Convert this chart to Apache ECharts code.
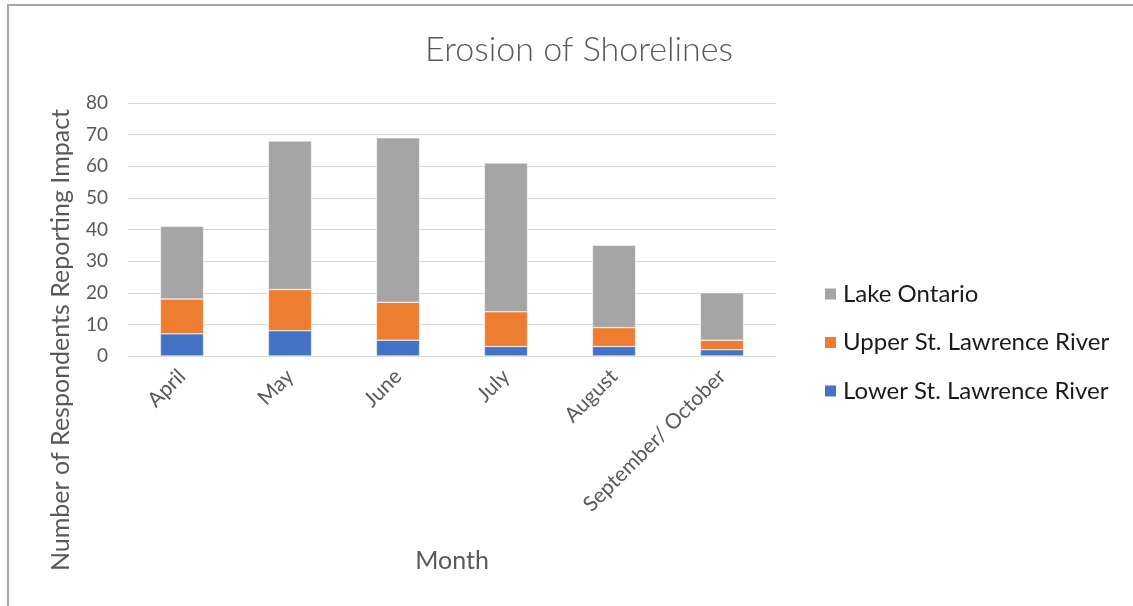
<!DOCTYPE html>
<html>
<head>
<meta charset="utf-8">
<script src="https://cdn.jsdelivr.net/npm/echarts@6/dist/echarts.min.js"></script>
<style>
  html, body { margin: 0; padding: 0; background: #fff; }
  #frame { position: absolute; left: 7px; top: 4px; width: 1140px; height: 620px;
           border-left: 2px solid #a6a6a6; border-top: 2px solid #a6a6a6; }
  #chart { position: absolute; left: 0; top: 0; width: 1133px; height: 606px; }
</style>
</head>
<body>
<div id="frame"></div>
<div id="chart"></div>
<script>
// Monthly counts of respondents reporting shoreline erosion, by region
const months = ['April', 'May', 'June', 'July', 'August', 'September/ October'];
const lowerStLawrence = [7, 8, 5, 3, 3, 2];
const upperStLawrence = [11, 13, 12, 11, 6, 3];
const lakeOntario = [23, 47, 52, 47, 26, 15];
const yTicks = [0, 10, 20, 30, 40, 50, 60, 70, 80];

const font = 'Lato, "Open Sans", sans-serif';
const chart = echarts.init(document.getElementById('chart'));

chart.setOption({
  animation: false,
  title: {
    text: 'Erosion of Shorelines',
    left: 574, top: 28, textAlign: 'center',
    textStyle: { fontFamily: font, fontSize: 34, fontWeight: 300, color: '#595959' }
  },
  grid: { left: 128, right: 357, top: 103, bottom: 250 },
  legend: {
    data: ['Lake Ontario', 'Upper St. Lawrence River', 'Lower St. Lawrence River'],
    orient: 'vertical', left: 818, top: 277, itemGap: 24.5,
    itemWidth: 13, itemHeight: 13, icon: 'rect',
    textStyle: { fontFamily: font, fontSize: 24, lineHeight: 24, color: '#1a1a1a',
                 padding: [0, 0, 0, 1] }
  },
  xAxis: {
    type: 'category', data: months,
    axisLine: { lineStyle: { color: '#d9d9d9', width: 1 } },
    axisTick: { show: false },
    axisLabel: { rotate: 45, fontFamily: font, fontSize: 21, color: '#595959', margin: 17 }
  },
  yAxis: {
    type: 'value', min: yTicks[0], max: yTicks[yTicks.length - 1], interval: 10,
    axisLine: { show: false }, axisTick: { show: false },
    axisLabel: { fontFamily: font, fontSize: 19, color: '#595959', margin: 20 },
    splitLine: { lineStyle: { color: '#d9d9d9', width: 1 } }
  },
  graphic: [
    {
      type: 'text', x: 61, y: 340, rotation: Math.PI / 2,
      style: { text: 'Number of Respondents Reporting Impact', fontFamily: font, fontSize: 25,
               fill: '#595959', textAlign: 'center', textVerticalAlign: 'middle' }
    },
    {
      type: 'text', x: 452, y: 561,
      style: { text: 'Month', fontFamily: font, fontSize: 25,
               fill: '#595959', textAlign: 'center', textVerticalAlign: 'middle' }
    }
  ],
  series: [
    { name: 'Lower St. Lawrence River', type: 'bar', stack: 'all', data: lowerStLawrence,
      barWidth: '40%', itemStyle: { color: '#4472c4', borderColor: '#fff', borderWidth: 0.5 } },
    { name: 'Upper St. Lawrence River', type: 'bar', stack: 'all', data: upperStLawrence,
      itemStyle: { color: '#ed7d31', borderColor: '#fff', borderWidth: 0.5 } },
    { name: 'Lake Ontario', type: 'bar', stack: 'all', data: lakeOntario,
      itemStyle: { color: '#a5a5a5', borderColor: '#fff', borderWidth: 0.5 } }
  ]
});
</script>
</body>
</html>
